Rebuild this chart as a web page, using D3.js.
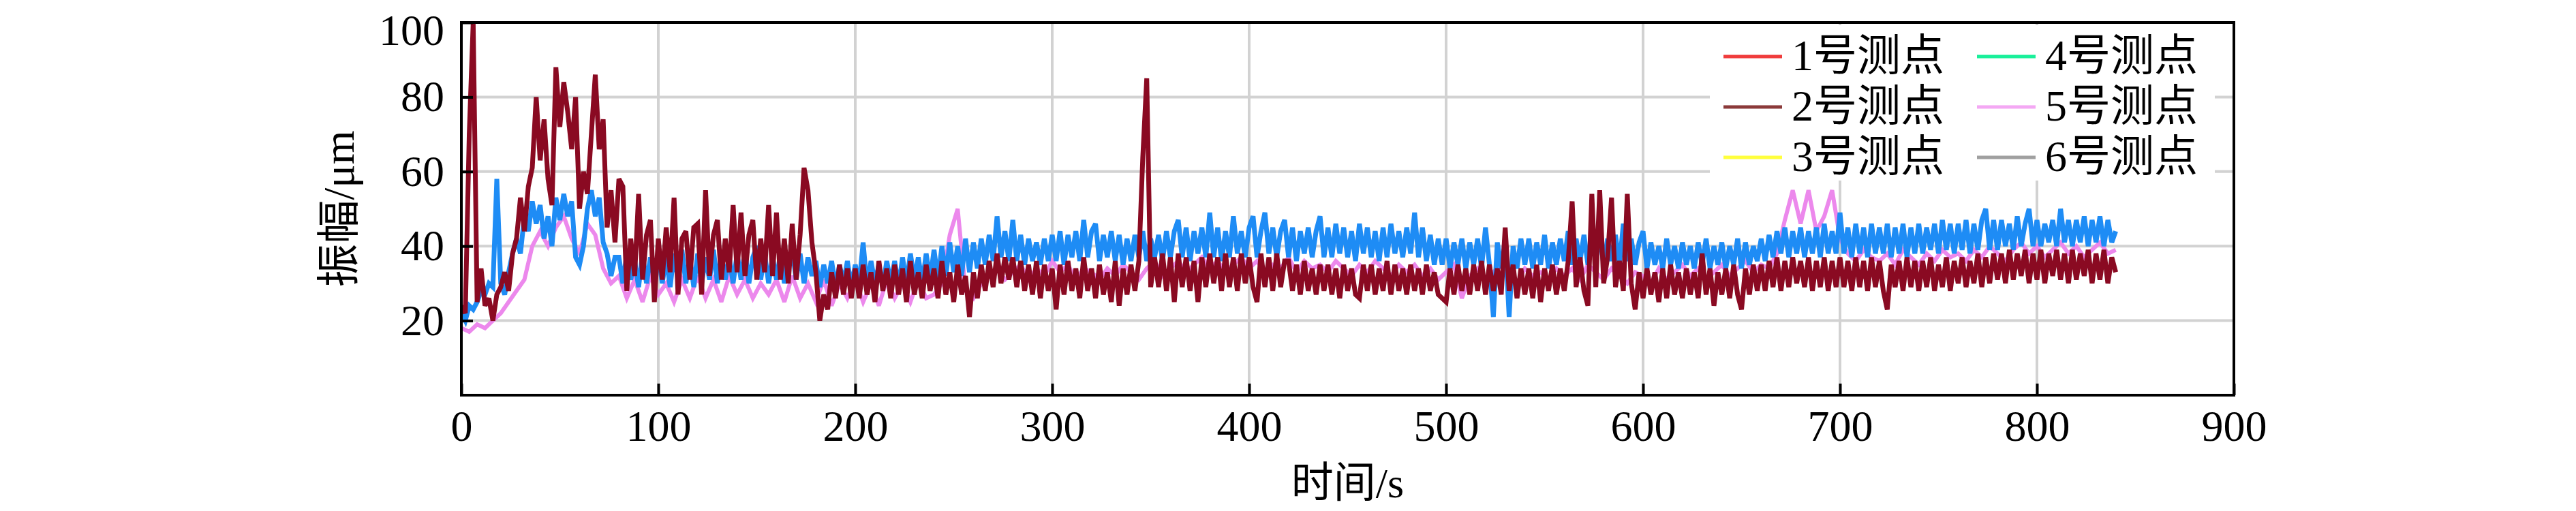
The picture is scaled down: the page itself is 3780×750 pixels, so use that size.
<!DOCTYPE html>
<html><head><meta charset="utf-8">
<script src="https://cdn.jsdelivr.net/npm/d3@7/dist/d3.min.js"></script>
<style>body{margin:0;background:#fff}svg{display:block}</style>
</head><body>
<svg id="chart" width="3780" height="750"></svg>
<script>
// ---------- data ----------
const xTicks = [0,100,200,300,400,500,600,700,800,900];
const yTicks = [20,40,60,80,100];
const legendLabels = ["1号测点","2号测点","3号测点","4号测点","5号测点","6号测点"];
const legendColors = ["#f03c3c","#8b3a3a","#ffff3c","#19f09a","#f4a8f4","#a0a0a0"];
// time grids (s)
const timeFine = d3.range(0, 841, 2);
const timeCoarse = d3.range(0, 841, 4);
// maroon trace (sampled every 2 s)
const seriesMaroon = [
24,22,70,100,25,34,24,26,20,27,
29,33,28,38,42,53,44,56,61,80,
63,74,58,51,88,72,84,76,66,80,
50,60,54,70,86,66,74,45,55,41,
58,56,28,42,32,54,31,43,47,25,
42,31,45,33,53,27,42,44,31,45,
46,27,55,32,43,47,31,42,33,51,
33,49,32,43,47,31,42,33,51,32,
49,31,42,30,46,31,43,61,55,41,
33,20,27,23,33,26,35,27,34,26,
34,26,35,27,33,25,36,28,34,26,
35,27,34,25,36,27,33,26,35,28,
34,26,36,27,33,25,35,27,32,21,
33,26,35,28,36,29,38,30,37,31,
37,29,36,28,35,27,36,26,35,28,
34,23,35,27,36,28,34,26,37,28,
34,26,35,27,33,25,36,24,34,27,
35,28,36,64,85,29,37,29,38,28,
37,25,38,29,37,28,36,25,37,29,
38,30,37,28,38,29,37,28,38,30,
37,29,25,38,29,37,28,38,29,36,
36,28,35,27,36,28,34,27,35,28,
35,27,34,26,35,28,34,27,26,35,
28,35,27,34,28,36,27,35,28,34,
27,35,28,34,27,35,28,33,27,26,
25,34,27,35,28,34,27,35,28,36,
27,35,28,34,27,45,28,35,26,34,
27,34,26,35,25,34,28,35,27,34,
28,36,52,29,37,28,24,54,29,55,
30,37,53,29,36,28,54,30,23,33,
26,34,27,33,25,34,26,35,27,33,
26,34,27,33,26,38,27,34,24,33,
27,34,26,35,27,23,34,27,35,28,
35,28,36,29,37,28,36,29,37,30,
36,29,37,28,36,29,37,28,36,29,
37,29,36,28,37,29,36,28,37,29,
36,28,23,35,29,36,28,37,29,36,
28,36,29,37,28,35,29,37,28,36,
30,37,29,36,30,38,29,37,30,38,
31,38,30,39,31,38,32,39,30,38,
31,39,30,38,32,39,31,38,30,39,
31,38,32,39,30,38,31,39,30,37,
33];
// blue trace (sampled every 2 s)
const seriesBlue = [
22,20,24,23,25,28,27,30,29,58,
30,27,33,38,42,38,48,44,52,46,
51,42,48,40,53,47,54,48,52,37,
35,40,50,55,48,53,41,38,32,37,
37,30,38,31,36,29,38,30,37,31,
38,30,37,29,38,31,39,30,37,29,
38,30,37,31,39,30,38,31,37,30,
38,31,39,30,37,40,31,38,30,37,
31,38,30,37,39,31,38,30,37,32,
36,29,35,30,36,29,35,30,36,29,
35,30,41,29,36,30,35,29,36,30,
36,29,37,30,38,31,37,30,38,31,
39,31,40,32,41,33,40,32,42,33,
41,34,42,35,43,36,48,37,44,36,
47,36,43,35,42,36,41,35,42,36,
43,36,44,35,43,37,44,36,47,37,
44,46,36,43,37,44,36,43,35,42,
36,43,37,44,36,42,37,43,36,44,
37,44,47,37,45,36,44,38,45,37,
49,37,45,36,44,37,48,38,44,37,
45,48,37,44,49,38,45,37,44,47,
37,45,36,44,38,45,37,44,48,37,
45,37,46,38,45,37,44,36,46,38,
45,37,44,36,45,37,46,38,44,37,
45,38,49,37,45,36,43,35,42,35,
42,34,41,35,42,34,41,35,42,34,
45,35,21,41,34,42,21,40,34,42,
35,42,34,41,35,43,34,41,35,42,
36,44,35,42,36,43,35,42,36,43,
35,42,36,43,35,46,36,42,35,41,
44,34,41,35,40,34,42,35,40,34,
41,35,40,34,41,35,42,34,40,35,
41,34,40,35,42,34,41,35,40,36,
42,36,43,37,44,38,45,37,44,38,
45,37,44,38,45,37,46,38,44,38,
49,38,45,37,46,38,45,37,46,38,
45,38,46,37,45,38,46,37,45,38,
46,38,45,39,46,38,47,39,46,38,
46,39,47,38,46,39,47,50,39,47,
39,47,40,46,39,48,40,46,50,40,
47,40,46,41,47,40,50,41,47,40,
47,41,48,40,47,41,48,40,47,41,
44];
// violet trace (5号测点, sampled every 4 s)
const seriesViolet = [
18,17,19,18,20,22,25,28,31,40,
44,40,45,48,42,38,46,43,34,30,
32,26,31,25,32,27,30,25,31,26,
32,26,31,25,32,27,31,26,30,27,
31,25,32,26,30,25,31,24,30,26,
31,25,30,24,31,26,30,25,31,26,
27,30,43,50,28,26,30,32,34,31,
33,35,31,34,32,36,33,35,31,34,
33,31,34,32,35,33,31,34,36,32,
34,36,33,35,37,34,36,33,35,37,
34,36,33,35,34,37,33,36,34,35,
33,36,34,32,35,33,36,34,32,35,
33,35,32,34,31,33,35,26,32,34,
31,33,35,32,30,34,32,33,31,34,
32,34,31,35,33,31,34,32,30,33,
32,30,34,31,33,35,32,34,31,33,
35,32,34,36,33,35,34,38,47,55,
46,55,44,48,55,42,38,36,39,37,
36,38,35,39,37,35,38,36,39,37,
38,36,39,37,40,38,36,39,41,38,
40,37,39,41,38,40,37,39,41,38,
39];
const lineColors = {violet:"#ec88ec", blue:"#1e8cf5", maroon:"#8a0a22"};

// ---------- chart ----------
const svg = d3.select("#chart");
const L = 677, R = 3278, T = 33, B = 580;
const x = d3.scaleLinear().domain([0, 900]).range([L, R]);
const y = d3.scaleLinear().domain([0, 100]).range([B, T]);
const serif = "'Liberation Serif','Times New Roman','Noto Sans CJK SC',serif";

svg.append("rect").attr("width", 3780).attr("height", 750).attr("fill", "#fff");

// grid
const grid = svg.append("g").attr("stroke", "#d2d2d2").attr("stroke-width", 4);
grid.selectAll(".vg").data(xTicks.filter(d => d > 0 && d < 900)).join("line")
  .attr("x1", d => x(d)).attr("x2", d => x(d)).attr("y1", T).attr("y2", B);
grid.selectAll(".hg").data(yTicks.filter(d => d < 100)).join("line")
  .attr("y1", d => y(d)).attr("y2", d => y(d)).attr("x1", L).attr("x2", R);

// clip
svg.append("clipPath").attr("id", "clip").append("rect")
  .attr("x", L).attr("y", T).attr("width", R - L).attr("height", B - T);

const lineGen = (times) => d3.line().x((d, i) => x(times[i])).y(d => y(d));
const traces = [
  {data: seriesViolet, times: timeCoarse, color: lineColors.violet, w: 6},
  {data: seriesBlue, times: timeFine, color: lineColors.blue, w: 7},
  {data: seriesMaroon, times: timeFine, color: lineColors.maroon, w: 7}
];
const gl = svg.append("g").attr("clip-path", "url(#clip)");
traces.forEach(s => {
  gl.append("path").datum(s.data)
    .attr("fill", "none").attr("stroke", s.color).attr("stroke-width", s.w)
    .attr("stroke-linejoin", "miter").attr("stroke-miterlimit", 3).attr("d", lineGen(s.times));
});

// axes
const ax = svg.append("g").attr("transform", `translate(0,${B})`)
  .call(d3.axisBottom(x).tickValues(xTicks).tickSize(-17).tickPadding(22).tickFormat(d3.format("d")));
const ay = svg.append("g").attr("transform", `translate(${L},0)`)
  .call(d3.axisLeft(y).tickValues(yTicks).tickSize(-17).tickPadding(25).tickFormat(d3.format("d")));
[ax, ay].forEach(g => {
  g.select(".domain").remove();
  g.selectAll(".tick line").attr("stroke", "#000").attr("stroke-width", 4);
  g.selectAll(".tick text").attr("font-family", serif).attr("font-size", 64).attr("fill", "#000");
});
// keep the top "100" label fully inside the page
ay.selectAll(".tick").filter(d => d === 100).select("text").attr("dy", "0.5em");

// frame
svg.append("rect").attr("x", L).attr("y", T).attr("width", R - L).attr("height", B - T)
  .attr("fill", "none").attr("stroke", "#000").attr("stroke-width", 4);

// axis titles
svg.append("text").attr("x", (L + R) / 2).attr("y", 730).attr("text-anchor", "middle")
  .attr("font-family", serif).attr("font-size", 62).text("时间/s");
svg.append("text").attr("transform", `translate(497,${(T + B) / 2}) rotate(-90)`)
  .attr("text-anchor", "middle").attr("dominant-baseline", "central")
  .attr("font-family", serif).attr("font-size", 64).text("振幅/μm");

// legend
svg.append("rect").attr("x", 2509).attr("y", 37).attr("width", 741).attr("height", 228).attr("fill", "#fff");
const lg = svg.append("g");
legendLabels.forEach((lab, i) => {
  const col = Math.floor(i / 3), row = i % 3;
  const lx = col === 0 ? 2529 : 2901;
  const ly = 83 + row * 74;
  lg.append("line").attr("x1", lx).attr("x2", lx + 86).attr("y1", ly).attr("y2", ly)
    .attr("stroke", legendColors[i]).attr("stroke-width", 5);
  lg.append("text").attr("x", lx + 100).attr("y", ly + 20)
    .attr("font-family", serif).attr("font-size", 64).attr("fill", "#000").text(lab);
});
</script>
</body></html>
